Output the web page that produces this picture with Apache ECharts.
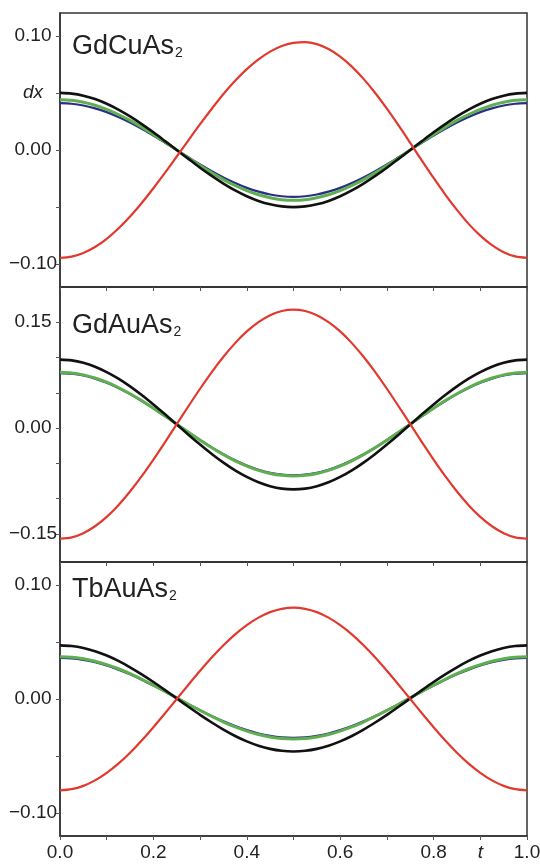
<!DOCTYPE html>
<html>
<head>
<meta charset="utf-8">
<script src="https://cdn.jsdelivr.net/npm/echarts@6/dist/echarts.min.js"></script>
<style>
  html, body { margin: 0; padding: 0; background: #fff; }
  #chart { width: 540px; height: 865px; }
</style>
</head>
<body>
<div id="chart"></div>
<script>
// t values along the path (step 0.025)
const tValues = [0, 0.025, 0.05, 0.075, 0.1, 0.125, 0.15, 0.175, 0.2, 0.225, 0.25,
  0.275, 0.3, 0.325, 0.35, 0.375, 0.4, 0.425, 0.45, 0.475, 0.5,
  0.525, 0.55, 0.575, 0.6, 0.625, 0.65, 0.675, 0.7, 0.725, 0.75,
  0.775, 0.8, 0.825, 0.85, 0.875, 0.9, 0.925, 0.95, 0.975, 1.0];

// GdCuAs2
const red1 = [-0.0945, -0.0934, -0.0902, -0.0850, -0.0778, -0.0688, -0.0583, -0.0464, -0.0335, -0.0199, -0.0057,
  0.0085, 0.0226, 0.0361, 0.0490, 0.0606, 0.0708, 0.0794, 0.0862, 0.0911, 0.0938,
  0.0945, 0.0927, 0.0884, 0.0818, 0.0730, 0.0623, 0.0499, 0.0362, 0.0215, 0.0062,
  -0.0093, -0.0245, -0.0390, -0.0525, -0.0647, -0.0750, -0.0833, -0.0895, -0.0932, -0.0945];
const black1 = [0.0500, 0.0494, 0.0476, 0.0446, 0.0405, 0.0354, 0.0294, 0.0227, 0.0155, 0.0078, 0.0000,
  -0.0078, -0.0155, -0.0227, -0.0294, -0.0354, -0.0405, -0.0446, -0.0476, -0.0494, -0.0500,
  -0.0494, -0.0476, -0.0446, -0.0405, -0.0354, -0.0294, -0.0227, -0.0155, -0.0078, 0.0000,
  0.0078, 0.0155, 0.0227, 0.0294, 0.0354, 0.0405, 0.0446, 0.0476, 0.0494, 0.0500];
const green1 = [0.0440, 0.0435, 0.0418, 0.0392, 0.0356, 0.0311, 0.0259, 0.0200, 0.0136, 0.0069, 0.0000,
  -0.0069, -0.0136, -0.0200, -0.0259, -0.0311, -0.0356, -0.0392, -0.0418, -0.0435, -0.0440,
  -0.0435, -0.0418, -0.0392, -0.0356, -0.0311, -0.0259, -0.0200, -0.0136, -0.0069, 0.0000,
  0.0069, 0.0136, 0.0200, 0.0259, 0.0311, 0.0356, 0.0392, 0.0418, 0.0435, 0.0440];
const blue1 = [0.0410, 0.0405, 0.0390, 0.0365, 0.0332, 0.0290, 0.0241, 0.0186, 0.0127, 0.0064, 0.0000,
  -0.0064, -0.0127, -0.0186, -0.0241, -0.0290, -0.0332, -0.0365, -0.0390, -0.0405, -0.0410,
  -0.0405, -0.0390, -0.0365, -0.0332, -0.0290, -0.0241, -0.0186, -0.0127, -0.0064, 0.0000,
  0.0064, 0.0127, 0.0186, 0.0241, 0.0290, 0.0332, 0.0365, 0.0390, 0.0405, 0.0410];

// GdAuAs2
const red2 = [-0.1570, -0.1550, -0.1491, -0.1393, -0.1260, -0.1094, -0.0900, -0.0683, -0.0447, -0.0199, 0.0055,
  0.0309, 0.0557, 0.0793, 0.1010, 0.1204, 0.1370, 0.1503, 0.1601, 0.1660, 0.1680,
  0.1660, 0.1601, 0.1503, 0.1370, 0.1204, 0.1010, 0.0793, 0.0557, 0.0309, 0.0055,
  -0.0199, -0.0447, -0.0683, -0.0900, -0.1094, -0.1260, -0.1393, -0.1491, -0.1550, -0.1570];
const black2 = [0.0970, 0.0959, 0.0925, 0.0870, 0.0794, 0.0701, 0.0591, 0.0468, 0.0334, 0.0194, 0.0050,
  -0.0094, -0.0234, -0.0368, -0.0491, -0.0601, -0.0694, -0.0770, -0.0825, -0.0859, -0.0870,
  -0.0859, -0.0825, -0.0770, -0.0694, -0.0601, -0.0491, -0.0368, -0.0234, -0.0094, 0.0050,
  0.0194, 0.0334, 0.0468, 0.0591, 0.0701, 0.0794, 0.0870, 0.0925, 0.0959, 0.0970];
const green2 = [0.0790, 0.0781, 0.0754, 0.0710, 0.0650, 0.0575, 0.0487, 0.0389, 0.0282, 0.0170, 0.0055,
  -0.0060, -0.0172, -0.0279, -0.0377, -0.0465, -0.0540, -0.0600, -0.0644, -0.0671, -0.0680,
  -0.0671, -0.0644, -0.0600, -0.0540, -0.0465, -0.0377, -0.0279, -0.0172, -0.0060, 0.0055,
  0.0170, 0.0282, 0.0389, 0.0487, 0.0575, 0.0650, 0.0710, 0.0754, 0.0781, 0.0790];
const blue2 = [0.0780, 0.0771, 0.0745, 0.0701, 0.0642, 0.0568, 0.0481, 0.0384, 0.0279, 0.0168, 0.0055,
  -0.0058, -0.0169, -0.0274, -0.0371, -0.0458, -0.0532, -0.0591, -0.0635, -0.0661, -0.0670,
  -0.0661, -0.0635, -0.0591, -0.0532, -0.0458, -0.0371, -0.0274, -0.0169, -0.0058, 0.0055,
  0.0168, 0.0279, 0.0384, 0.0481, 0.0568, 0.0642, 0.0701, 0.0745, 0.0771, 0.0780];

// TbAuAs2
const red3 = [-0.0800, -0.0790, -0.0761, -0.0713, -0.0647, -0.0566, -0.0470, -0.0363, -0.0247, -0.0125, 0.0000,
  0.0125, 0.0247, 0.0363, 0.0470, 0.0566, 0.0647, 0.0713, 0.0761, 0.0790, 0.0800,
  0.0790, 0.0761, 0.0713, 0.0647, 0.0566, 0.0470, 0.0363, 0.0247, 0.0125, 0.0000,
  -0.0125, -0.0247, -0.0363, -0.0470, -0.0566, -0.0647, -0.0713, -0.0761, -0.0790, -0.0800];
const black3 = [0.0470, 0.0464, 0.0447, 0.0419, 0.0381, 0.0334, 0.0278, 0.0216, 0.0149, 0.0078, 0.0005,
  -0.0068, -0.0139, -0.0206, -0.0268, -0.0324, -0.0371, -0.0409, -0.0437, -0.0454, -0.0460,
  -0.0454, -0.0437, -0.0409, -0.0371, -0.0324, -0.0268, -0.0206, -0.0139, -0.0068, 0.0005,
  0.0078, 0.0149, 0.0216, 0.0278, 0.0334, 0.0381, 0.0419, 0.0447, 0.0464, 0.0470];
const green3 = [0.0370, 0.0366, 0.0352, 0.0331, 0.0301, 0.0265, 0.0222, 0.0173, 0.0121, 0.0066, 0.0010,
  -0.0046, -0.0101, -0.0153, -0.0202, -0.0245, -0.0281, -0.0311, -0.0332, -0.0346, -0.0350,
  -0.0346, -0.0332, -0.0311, -0.0281, -0.0245, -0.0202, -0.0153, -0.0101, -0.0046, 0.0010,
  0.0066, 0.0121, 0.0173, 0.0222, 0.0265, 0.0301, 0.0331, 0.0352, 0.0366, 0.0370];
const blue3 = [0.0360, 0.0356, 0.0343, 0.0322, 0.0293, 0.0257, 0.0216, 0.0169, 0.0118, 0.0065, 0.0010,
  -0.0045, -0.0098, -0.0149, -0.0196, -0.0237, -0.0273, -0.0302, -0.0323, -0.0336, -0.0340,
  -0.0336, -0.0323, -0.0302, -0.0273, -0.0237, -0.0196, -0.0149, -0.0098, -0.0045, 0.0010,
  0.0065, 0.0118, 0.0169, 0.0216, 0.0257, 0.0293, 0.0322, 0.0343, 0.0356, 0.0360];

// panel names and axis ticks
const panelNames = ["GdCuAs", "GdAuAs", "TbAuAs"];
const yRanges = [[-0.12, 0.12], [-0.19, 0.2], [-0.12, 0.12]];
const yTicks = [
  [-0.1, -0.05, 0, 0.05, 0.1],
  [-0.15, -0.1, -0.05, 0, 0.05, 0.1, 0.15],
  [-0.1, -0.05, 0, 0.05, 0.1],
];
const yLabels = [
  [-0.1, 0, 0.05, 0.1],
  [-0.15, 0, 0.15],
  [-0.1, 0, 0.1],
];
const xTicks = [0, 0.1, 0.2, 0.3, 0.4, 0.5, 0.6, 0.7, 0.8, 0.9, 1.0];
const xLabels = [0, 0.2, 0.4, 0.6, 0.8, 0.9, 1.0];

const chart = echarts.init(document.getElementById("chart"));

const font = "'Liberation Sans', Arial, sans-serif";
const gridTops = [13, 287, 562];
const gridHeights = [274, 275, 274];

const pair = (arr) => arr.map((v, i) => [tValues[i], v]);

const grids = gridTops.map((top, i) => ({
  left: 60,
  top: top,
  width: 467,
  height: gridHeights[i],
  show: true,
  borderColor: "#333",
  borderWidth: 1.5,
  backgroundColor: "transparent",
  containLabel: false,
  outerBoundsMode: "none",
}));

const xAxes = gridTops.map((_, i) => ({
  type: "value",
  gridIndex: i,
  min: 0,
  max: 1,
  axisLine: { show: true, onZero: false, lineStyle: { color: "#333", width: 1.5 } },
  axisTick: {
    show: true,
    inside: false,
    length: 4,
    customValues: xTicks,
    lineStyle: { color: "#555", width: 1 },
  },
  splitLine: { show: false },
  axisLabel: {
    show: i === 2,
    customValues: xLabels,
    showMaxLabel: true,
    showMinLabel: true,
    hideOverlap: false,
    margin: 7,
    color: "#222",
    fontSize: 19,
    fontFamily: font,
    formatter: (v) => (Math.abs(v - 0.9) < 1e-6 ? "{i|t}" : v.toFixed(1)),
    rich: { i: { fontStyle: "italic", fontSize: 19, fontFamily: font, color: "#222" } },
  },
}));

const yAxes = gridTops.map((_, i) => ({
  type: "value",
  gridIndex: i,
  min: yRanges[i][0],
  max: yRanges[i][1],
  axisLine: { show: true, onZero: false, lineStyle: { color: "#333", width: 1.5 } },
  axisTick: {
    show: true,
    inside: false,
    length: 4,
    customValues: yTicks[i],
    lineStyle: { color: "#555", width: 1 },
  },
  splitLine: { show: false },
  axisLabel: {
    customValues: yLabels[i],
    align: "center",
    margin: 27,
    color: "#222",
    fontSize: 19,
    fontFamily: font,
    formatter: (v) => {
      if (i === 0 && Math.abs(v - 0.05) < 1e-6) return "{i|dx}";
      return v.toFixed(2).replace("-", "\u2212");
    },
    rich: { i: { fontStyle: "italic", fontSize: 19, fontFamily: font, color: "#222" } },
  },
}));

const panels = [
  [blue1, green1, black1, red1],
  [blue2, green2, black2, red2],
  [blue3, green3, black3, red3],
];
const lineStyles = [
  { color: "#2a2f86", width: 2.2 },
  { color: "#5fae50", width: 3 },
  { color: "#111111", width: 2.6 },
  { color: "#e0392d", width: 2.2 },
];

const series = [];
panels.forEach((group, i) => {
  group.forEach((arr, k) => {
    series.push({
      type: "line",
      xAxisIndex: i,
      yAxisIndex: i,
      data: pair(arr),
      smooth: 0.3,
      showSymbol: false,
      silent: true,
      lineStyle: lineStyles[k],
      z: 2 + k,
    });
  });
});

const titleY = [44, 323, 587];
const graphic = panelNames.map((name, i) => ({
  type: "text",
  x: 72,
  y: titleY[i],
  z: 10,
  style: {
    text: "{m|" + name + "}{s|2}",
    verticalAlign: "middle",
    fill: "#222",
    rich: {
      m: { fontSize: 27, fontFamily: font, fill: "#222", verticalAlign: "bottom", lineHeight: 32 },
      s: { fontSize: 14, fontFamily: font, fill: "#222", verticalAlign: "bottom", lineHeight: 2, padding: [0, 0, 0, 1] },
    },
  },
}));

chart.setOption({
  animation: false,
  backgroundColor: "#fff",
  grid: grids,
  xAxis: xAxes,
  yAxis: yAxes,
  series: series,
  graphic: graphic,
});
</script>
</body>
</html>
